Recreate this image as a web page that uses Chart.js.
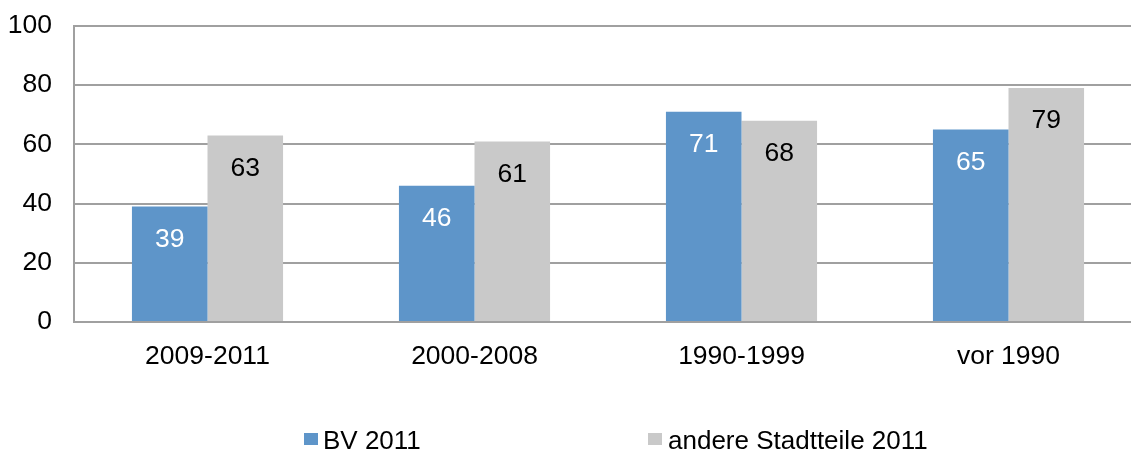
<!DOCTYPE html>
<html>
<head>
<meta charset="utf-8">
<script src="https://cdn.jsdelivr.net/npm/chart.js@4/dist/chart.umd.min.js"></script>
<style>
  html, body { margin: 0; padding: 0; background: #fff; overflow: hidden; }
  #wrap { position: relative; width: 1131px; height: 450px; overflow: hidden; }
  #box { position: absolute; left: 0; top: -12px; width: 1145px; height: 462px; }
  .leg { position: absolute; top: 427px; font: 26px "Liberation Sans", Arial, sans-serif; line-height: 26px; color: #000; white-space: nowrap; }
  .sq { position: absolute; width: 14px; height: 12px; top: 6px; }
</style>
</head>
<body>
<div id="wrap">
  <div id="box"><canvas id="chart"></canvas></div>
  <div class="leg" id="leg1" style="left:304px"><span class="sq" style="left:0;background:#5e95c9"></span><span style="margin-left:19px">BV 2011</span></div>
  <div class="leg" id="leg2" style="left:648px"><span class="sq" style="left:0;background:#c9c9c9"></span><span style="margin-left:20px">andere Stadtteile 2011</span></div>
</div>
<script>
const categories = ['2009-2011', '2000-2008', '1990-1999', 'vor 1990'];
const bvValues = [39, 46, 71, 65];
const otherValues = [63, 61, 68, 79];
const seriesNames = ['BV 2011', 'andere Stadtteile 2011'];
const yTicks = [0, 20, 40, 60, 80, 100];

const FONT = '"Liberation Sans", Arial, sans-serif';
const FSIZE = 26.5;

// value labels inside the bars, a bit below the top
const barLabels = {
  id: 'barLabels',
  afterDatasetsDraw(chart) {
    const ctx = chart.ctx;
    ctx.save();
    ctx.font = FSIZE + 'px ' + FONT;
    ctx.textAlign = 'center';
    ctx.textBaseline = 'middle';
    chart.data.datasets.forEach((ds, i) => {
      ctx.fillStyle = i === 0 ? '#ffffff' : '#000000';
      chart.getDatasetMeta(i).data.forEach((bar, j) => {
        ctx.fillText(String(ds.data[j]), bar.x, bar.y + 33);
      });
    });
    ctx.restore();
  }
};

new Chart(document.getElementById('chart'), {
  type: 'bar',
  data: {
    labels: categories,
    datasets: [
      { label: seriesNames[0], data: bvValues, backgroundColor: '#5e95c9' },
      { label: seriesNames[1], data: otherValues, backgroundColor: '#c9c9c9' }
    ]
  },
  options: {
    responsive: true,
    maintainAspectRatio: false,
    animation: false,
    categoryPercentage: 0.566,
    barPercentage: 1,
    layout: { padding: { top: 12, right: 3, left: 0, bottom: 0 } },
    plugins: {
      legend: { display: false },
      tooltip: { enabled: false }
    },
    scales: {
      x: {
        grid: { display: false },
        border: { display: true, color: '#a0a0a0', width: 2 },
        ticks: { color: '#000', font: { size: FSIZE, family: FONT }, padding: 11, maxRotation: 0 },
        afterFit: s => { s.height = 128; }
      },
      y: {
        min: 0,
        max: 100,
        afterBuildTicks: s => { s.ticks = yTicks.map(v => ({ value: v })); },
        grid: { color: '#a0a0a0', lineWidth: 2, drawTicks: false },
        border: { display: true, color: '#a0a0a0', width: 2 },
        ticks: { color: '#000', font: { size: FSIZE, family: FONT }, padding: 22 },
        afterFit: s => { s.width = 74; }
      }
    }
  },
  plugins: [barLabels]
});
</script>
</body>
</html>
